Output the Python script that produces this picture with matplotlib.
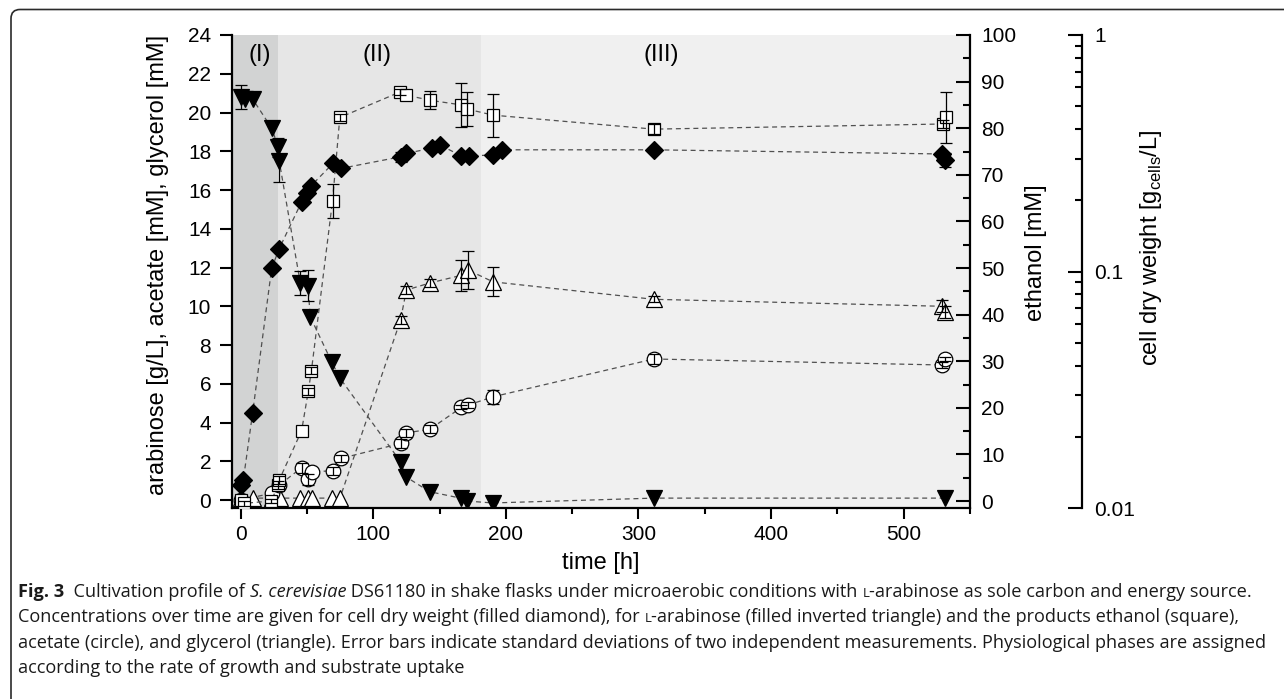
import matplotlib
matplotlib.use("Agg")
import matplotlib.pyplot as plt
import numpy as np
from matplotlib import font_manager
from matplotlib.font_manager import FontProperties
from matplotlib.patches import FancyBboxPatch
from matplotlib.transforms import IdentityTransform
from matplotlib.ticker import MultipleLocator, LogLocator, FixedLocator, FixedFormatter, NullFormatter

plt.rcParams['font.family'] = ['Liberation Sans', 'DejaVu Sans']

# ---- data ----
# L-arabinose [g/L]
t_ara = [0, 3, 9, 23.4, 28.4, 29.1, 45, 50.8, 52.5, 68.6, 74.8, 120.6, 124.6, 142.6, 166.5, 170.5, 190, 311.5, 531]
arabinose = [20.8, 20.7, 20.7, 19.2, 18.2, 17.5, 11.2, 11.05, 9.46, 7.14, 6.3, 1.98, 1.2, 0.43, 0.09, -0.05, -0.15, 0.1, 0.1]
err_ara = [0.6, 0, 0, 0, 0.5, 1.1, 0.6, 0.8, 0, 0, 0, 0, 0, 0, 0, 0, 0, 0, 0]

# ethanol [mM]
t_eth = [0, 2.5, 23, 28.4, 29.1, 46, 51, 53.4, 69.3, 74.8, 120.5, 125, 142.6, 166.5, 170.9, 190.4, 311.5, 529.5, 532]
ethanol = [0.2, -0.5, 0, 3.4, 4.5, 15.1, 23.5, 28.0, 64.4, 82.3, 87.8, 87.1, 86.0, 85.0, 84.1, 82.8, 79.8, 80.9, 82.3]
err_eth = [0, 0.5, 0.5, 0.8, 0.8, 0, 0.8, 0.8, 3.7, 0.8, 0.6, 0, 1.9, 4.75, 3.7, 4.6, 1.0, 0.8, 5.4]

# acetate [mM]
t_ace = [0, 23.4, 29, 46, 51, 53.5, 69.3, 75.6, 120.6, 125, 142.6, 166.5, 171.5, 190.4, 311.5, 529, 531]
acetate = [0.0, 0.35, 0.77, 1.67, 1.07, 1.46, 1.51, 2.15, 2.92, 3.47, 3.65, 4.78, 4.9, 5.33, 7.28, 6.97, 7.28]
err_ace = [0, 0, 0.15, 0.25, 0.3, 0, 0.2, 0.2, 0.25, 0.2, 0.2, 0.1, 0.15, 0.35, 0.25, 0.15, 0.1]

# glycerol [mM]
t_gly = [0, 9, 23.4, 29.6, 44.7, 51, 53.5, 68.6, 74.9, 120.6, 125, 142.6, 166.5, 171.5, 190.4, 311.5, 529, 531]
glycerol = [0.1, 0.1, 0.1, 0.1, 0.1, 0.1, 0.1, 0.1, 0.1, 9.29, 10.84, 11.2, 11.6, 11.87, 11.26, 10.36, 10.0, 9.72]
err_gly = [0, 0, 0, 0, 0, 0, 0, 0, 0, 0.2, 0.2, 0.2, 0.8, 1.0, 0.75, 0.15, 0.3, 0.3]

# cell dry weight [g/L]
t_cdw = [0, 2, 9, 23.4, 29.1, 46, 50, 53, 69.8, 76, 121.3, 125, 144, 150.2, 166.5, 172.3, 190.4, 197.4, 311.5, 529, 531]
cdw = [0.0125, 0.0131, 0.0251, 0.103, 0.125, 0.197, 0.215, 0.230, 0.287, 0.273, 0.306, 0.316,
       0.332, 0.343, 0.308, 0.308, 0.311, 0.327, 0.327, 0.314, 0.296]
err_cdw = [0, 0, 0, 0, 0, 0, 0, 0, 0, 0, 0.015, 0, 0, 0, 0, 0, 0, 0, 0, 0, 0.02]

# physiological phases
phase_edges = [-10, 28, 181, 560]
phase_names = ['(I)', '(II)', '(III)']
phase_label_x = [14.5, 102.5, 317.5]
phase_colors = ['#d2d3d3', '#e6e6e6', '#f0f0f0']

W, H = 1284, 699
fig = plt.figure(figsize=(W / 100, H / 100), dpi=100)
ax = fig.add_axes([232 / W, 1 - 508 / H, 738 / W, 473 / H])

for i in range(3):
    ax.axvspan(phase_edges[i], phase_edges[i + 1], color=phase_colors[i], lw=0, zorder=0)
    ax.text(phase_label_x[i], 22.95, phase_names[i], ha='center', va='center', fontsize=17, zorder=5)

ax2 = ax.twinx()
ax3 = ax.twinx()


def series(a, t, v, err, marker, ms, fc, z=3):
    t, v, err = np.asarray(t), np.asarray(v), np.asarray(err)
    a.plot(t, v, ls=(0, (4, 3)), color='#505050', lw=0.9, zorder=z)
    a.plot(t, v, ls='none', marker=marker, ms=ms, mfc=fc, mec='black', mew=0.9, zorder=z + 0.1)
    m = err > 0
    a.errorbar(t[m], v[m], yerr=err[m], fmt='none', ecolor='black', elinewidth=0.9,
               capsize=4.3, capthick=0.9, zorder=z + 0.2)


series(ax, t_gly, glycerol, err_gly, '^', 11.5, 'white')
series(ax, t_ace, acetate, err_ace, 'o', 10.5, 'white')
series(ax, t_ara, arabinose, err_ara, 'v', 12, 'black')
series(ax2, t_eth, ethanol, err_eth, 's', 9, 'white')
series(ax3, t_cdw, cdw, err_cdw, 'D', 9.5, 'black')

# axes limits and ticks
ax.set_xlim(-6.5, 550)
ax.set_ylim(-0.41, 24)
ax2.set_ylim(-1.5, 100)
ax3.set_yscale('log')
ax3.set_ylim(0.01, 1)

for s in ['top', 'right']:
    ax.spines[s].set_visible(False)
for s in ['left', 'bottom']:
    ax.spines[s].set_linewidth(1.6)
for a in (ax2, ax3):
    for s in ['top', 'left', 'bottom']:
        a.spines[s].set_visible(False)
    a.spines['right'].set_linewidth(1.6)
ax3.spines['right'].set_position(('axes', 850 / 738))

ax.xaxis.set_major_locator(MultipleLocator(100))
ax.xaxis.set_minor_locator(MultipleLocator(50))
ax.yaxis.set_major_locator(MultipleLocator(2))
ax.tick_params(axis='x', which='major', direction='out', length=8, width=1.5, labelsize=15, pad=4)
ax.tick_params(axis='x', which='minor', direction='out', length=4, width=1.5)
ax.tick_params(axis='y', which='major', direction='out', length=9, width=1.5, labelsize=15, pad=6)

ax2.yaxis.set_major_locator(MultipleLocator(10))
ax2.yaxis.set_minor_locator(MultipleLocator(5))
ax2.tick_params(axis='y', which='major', direction='in', length=10, width=1.5, labelsize=15, pad=8)
ax2.tick_params(axis='y', which='minor', direction='in', length=5, width=1.5)

ax3.yaxis.set_major_locator(FixedLocator([0.01, 0.1, 1]))
ax3.yaxis.set_major_formatter(FixedFormatter(['0.01', '0.1', '1']))
ax3.yaxis.set_minor_locator(LogLocator(base=10, subs=np.arange(2, 10)))
ax3.yaxis.set_minor_formatter(NullFormatter())
ax3.tick_params(axis='y', which='major', direction='in', length=10, width=1.5, labelsize=15, pad=9)
ax3.tick_params(axis='y', which='minor', direction='in', length=5, width=1.5)

# labels
ax.set_xlabel('time [h]', fontsize=17, labelpad=6)
ax.set_ylabel('arabinose [g/L], acetate [mM], glycerol [mM]', fontsize=17, va='center')
ax.yaxis.set_label_coords((158 - 232) / 738, 0.514)
ax2.set_ylabel('ethanol [mM]', fontsize=17, va='center', rotation=90)
ax2.yaxis.set_label_coords((1036 - 232) / 738, 0.539)
ax3.set_ylabel(r'cell dry weight [g$_{\mathregular{cells}}$/L]', fontsize=17, va='center', rotation=90)
ax3.yaxis.set_label_coords((1151 - 232) / 738, 0.55)

# rounded frame around the figure
frame = FancyBboxPatch((11, -60), 1400, (H - 9.5) + 60, boxstyle='round,pad=0,rounding_size=9',
                       transform=IdentityTransform(), fill=False, ec='#2a2a2a', lw=1.2, clip_on=False)
fig.patches.append(frame)

# caption
names = {f.name for f in font_manager.fontManager.ttflist}
cap_family = 'Liberation Sans Narrow' if 'Liberation Sans Narrow' in names else 'Open Sans'
renderer = fig.canvas.get_renderer()


def props(style, size):
    return FontProperties(family=[cap_family, 'DejaVu Sans'],
                          size=size * (0.72 if style == 'sc' else 1),
                          weight='bold' if style == 'b' else 'normal',
                          style='italic' if style == 'i' else 'normal')


def seg_width(txt, fp):
    w1 = renderer.get_text_width_height_descent('|' + txt + '|', fp, ismath=False)[0]
    w0 = renderer.get_text_width_height_descent('||', fp, ismath=False)[0]
    return w1 - w0


def line_width(parts, size):
    return sum(seg_width(t, props(s, size)) for t, s in parts)


def caption_line(parts, x, y, size):
    for t, s in parts:
        fp = props(s, size)
        fig.text(x / W, 1 - y / H, t, fontproperties=fp, va='baseline', ha='left', color='#1a1a1a')
        x += seg_width(t, fp)


cap = [
    [('Fig. 3', 'b'), ('  Cultivation profile of ', 'n'), ('S. cerevisiae', 'i'),
     (' DS61180 in shake flasks under microaerobic conditions with ', 'n'), ('L', 'sc'),
     ('-arabinose as sole carbon and energy source.', 'n')],
    [('Concentrations over time are given for cell dry weight (filled diamond), for ', 'n'), ('L', 'sc'),
     ('-arabinose (filled inverted triangle) and the products ethanol (square),', 'n')],
    [('acetate (circle), and glycerol (triangle). Error bars indicate standard deviations of two independent '
      'measurements. Physiological phases are assigned', 'n')],
    [('according to the rate of growth and substrate uptake', 'n')],
]
cap_size = 10 * (1257 - 18) / line_width(cap[0], 10)
for i, parts in enumerate(cap):
    caption_line(parts, 18, 597 + 25.3 * i, cap_size)

fig.savefig('out.png', dpi=100)
